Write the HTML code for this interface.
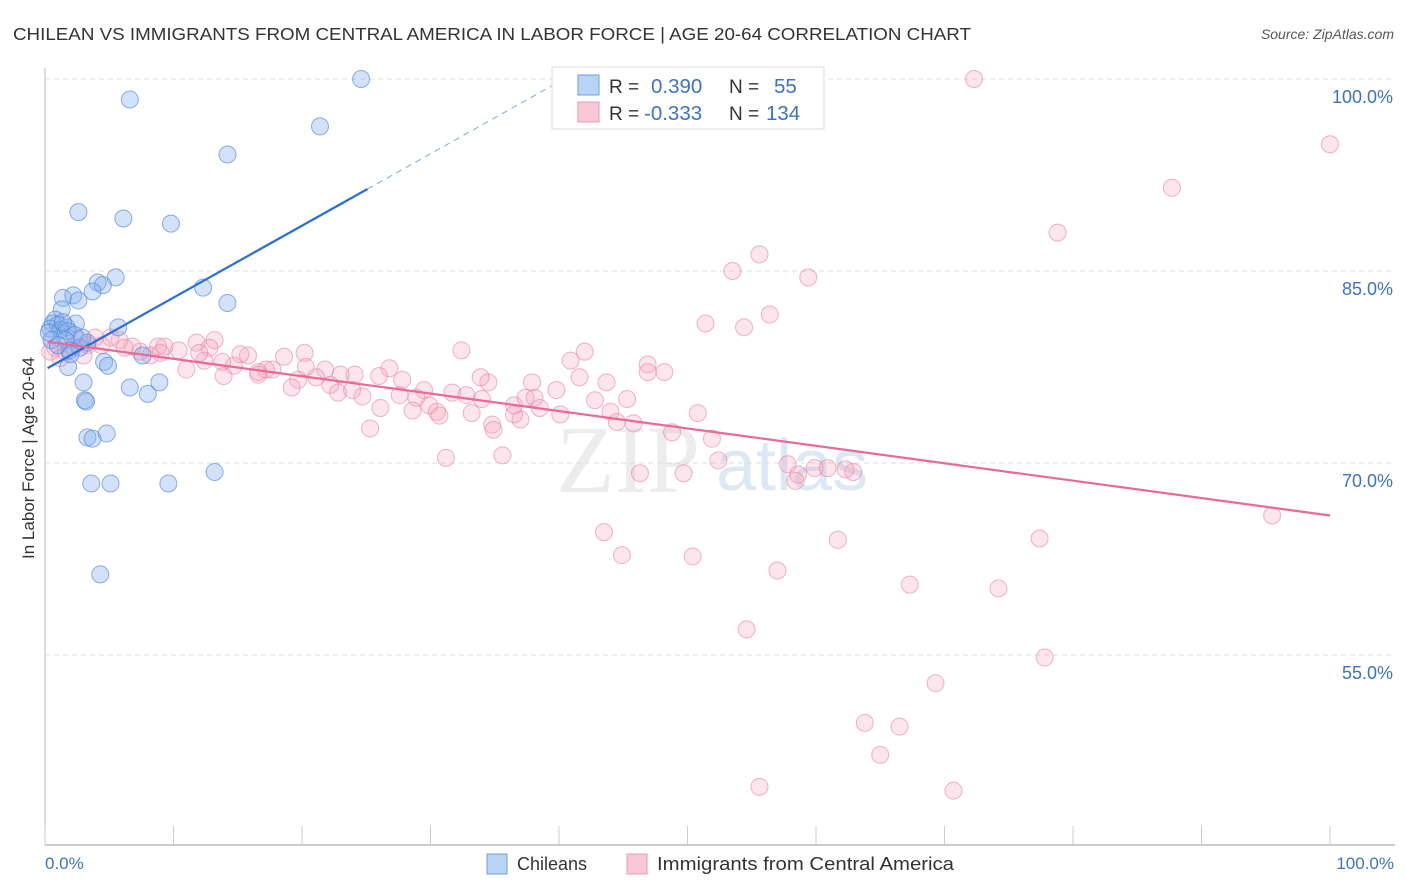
<!DOCTYPE html>
<html><head><meta charset="utf-8"><style>
body{margin:0;background:#fff;font-family:"Liberation Sans",sans-serif}
svg{display:block}
</style></head><body>
<svg id="chart" width="1406" height="892" viewBox="0 0 1406 892">
<text x="13" y="40" font-size="17.5" fill="#333" textLength="958" lengthAdjust="spacingAndGlyphs">CHILEAN VS IMMIGRANTS FROM CENTRAL AMERICA IN LABOR FORCE | AGE 20-64 CORRELATION CHART</text>
<text x="1394" y="39" font-size="14" fill="#555" font-style="italic" text-anchor="end">Source: ZipAtlas.com</text>
<text x="700" y="492" font-size="96" fill="#ececec" font-family="Liberation Serif,serif" text-anchor="end">ZIP</text>
<text x="716" y="490" font-size="72" fill="#dde8f5">atlas</text>
<g id="grid"></g>
<g id="axes"></g>
<g id="pink"></g>
<g id="blue"></g>
<g id="trends"></g>
<text x="34" y="458" font-size="17" fill="#333" text-anchor="middle" transform="rotate(-90 34 458)">In Labor Force | Age 20-64</text>
<text x="45" y="869" font-size="17" fill="#3b73c8">0.0%</text>
<text x="1394" y="869" font-size="17" fill="#3b73c8" text-anchor="end">100.0%</text>
<g>
<rect x="487" y="854" width="20" height="20" fill="#b9d3f5" stroke="#6e9ee0"/>
<text x="517" y="870" font-size="18" fill="#333">Chileans</text>
<rect x="627" y="854" width="20" height="20" fill="#f8c8d6" stroke="#ec9ab4"/>
<text x="657" y="870" font-size="18" fill="#333" textLength="297" lengthAdjust="spacingAndGlyphs">Immigrants from Central America</text>
</g>
<g>
<rect x="552" y="67" width="272" height="62" fill="#fff" stroke="#ddd"/>
<rect x="578" y="75" width="21" height="20" fill="#b9d3f5" stroke="#6e9ee0"/>
<rect x="578" y="102" width="21" height="20" fill="#f8c8d6" stroke="#ec9ab4"/>
<text x="609" y="93" font-size="19" fill="#333">R = </text><text x="651" y="93" font-size="20.5" fill="#3b73c8">0.390</text>
<text x="729" y="93" font-size="19" fill="#333">N = </text><text x="774" y="93" font-size="20.5" fill="#3b73c8">55</text>
<text x="609" y="120" font-size="19" fill="#333">R = </text><text x="644" y="120" font-size="20.5" fill="#3b73c8">-0.333</text>
<text x="729" y="120" font-size="19" fill="#333">N = </text><text x="766" y="120" font-size="20.5" fill="#3b73c8">134</text>
</g>
</svg>
<script>
const yTicks=[55,70,85,100];
const yTickLabels=["55.0%","70.0%","85.0%","100.0%"];
const xTicks=[0,10,20,30,40,50,60,70,80,90,100];
const blueX=[24.6,6.6,21.4,14.2,2.6,6.1,9.8,5.5,4.1,4.5,3.7,12.3,14.2,1.4,2.2,2.6,1.3,0.8,0.6,1.0,0.4,1.2,1.7,2.4,1.8,2.3,3.3,1.6,0.5,1.9,2.7,5.7,7.6,1.8,4.6,4.9,3.0,6.6,8.9,8.0,3.1,3.2,3.3,3.7,4.8,13.2,3.6,5.1,9.6,4.3,0.3,1.0,2.0,2.9,1.4];
const blueY=[100,98.4,96.3,94.1,89.6,89.1,88.7,84.5,84.1,83.9,83.4,83.7,82.5,82.9,83.1,82.7,82.0,81.2,80.9,80.8,80.5,80.4,80.6,80.9,80.3,80.0,79.4,79.6,79.6,78.8,79.0,80.6,78.4,77.5,77.9,77.6,76.3,75.9,76.3,75.4,74.9,74.8,72.0,71.9,72.3,69.3,68.4,68.4,68.4,61.3,80.2,79.2,78.5,79.8,81.0];
const pinkX=[72.3,100,87.7,78.8,55.6,53.5,59.4,56.4,51.4,54.4,95.5,77.4,43.5,44.9,50.4,61.7,57.0,67.3,74.2,54.6,77.8,69.3,63.8,66.5,65.0,55.6,70.7,52.4,49.7,46.3,58.6,57.8,59.9,60.9,62.9,62.3,58.4,50.8,48.8,51.9,45.8,42.0,40.9,41.6,43.7,45.3,46.9,48.2,46.9,42.8,39.8,37.9,38.1,38.5,37.0,36.5,37.4,34.8,35.6,34.9,33.2,34.5,33.9,32.4,31.7,31.2,30.7,29.9,29.5,28.9,28.6,27.8,26.8,26.1,25.3,24.7,24.1,23.0,22.8,22.2,21.8,21.1,20.2,19.7,19.2,18.6,17.7,17.2,16.6,15.8,15.2,14.7,13.9,13.8,13.2,12.8,12.4,11.8,11.0,10.4,9.3,8.8,8.2,7.4,6.8,5.8,5.1,4.4,3.9,3.3,2.7,2.2,1.6,0.8,0.4,16.6,20.3,23.9,27.6,30.5,32.8,36.5,40.1,44.0,47.5,48.6,9.0,3.0,6.2,12.0,26.0,34.0,1.2,44.5];
const pinkY=[100,94.9,91.5,88.0,86.3,85.0,84.5,81.6,80.9,80.6,65.9,64.1,64.6,62.8,62.7,64.0,61.6,60.5,60.2,57.0,54.8,52.8,49.7,49.4,47.2,44.7,44.4,70.2,69.2,69.2,69.1,69.9,69.6,69.6,69.3,69.5,68.6,73.9,72.4,71.9,73.1,78.7,78.0,76.7,76.3,75.0,77.7,77.1,77.1,74.9,75.7,76.3,75.1,74.3,73.4,73.8,75.1,73.0,70.6,72.6,73.9,76.3,76.7,78.8,75.5,70.4,73.7,74.5,75.7,75.1,74.1,76.5,77.4,74.3,72.7,75.2,76.9,76.9,75.5,76.1,77.3,76.7,78.6,76.5,75.9,78.3,77.3,77.3,77.1,78.4,78.5,77.6,76.8,77.9,79.6,79.0,78.0,79.4,77.3,78.8,79.1,79.1,78.4,78.7,79.1,79.6,79.8,79.2,79.8,79.2,79.6,79.1,78.7,79.0,78.7,76.9,77.5,75.7,75.3,74.0,75.3,74.5,73.8,74.0,100,100,78.6,78.4,79.0,78.6,76.8,75.0,78.2,73.2];
const blueTrend={a:77.3,b:0.562,solidTo:25.1,dashTo:40};
const pinkTrend={a:79.5,b:-0.136,to:100};

const NS="http://www.w3.org/2000/svg";
const X=v=>45+v*12.85;
const Y=v=>79+(100-v)*12.8;
function mk(tag,attrs,parent){const e=document.createElementNS(NS,tag);for(const k in attrs)e.setAttribute(k,attrs[k]);parent.appendChild(e);return e;}
const grid=document.getElementById('grid'),axes=document.getElementById('axes');
yTicks.forEach((t,i)=>{
  const l=mk('line',{x1:45,x2:1395,y1:Y(t),y2:Y(t),stroke:'#ddd','stroke-dasharray':'5,4'},grid);
  
  
  const tx=mk('text',{x:1393,y:Y(t)+24,'font-size':18,fill:'#3b73c8','text-anchor':'end'},grid);
  tx.textContent=yTickLabels[i];
  
  
});
const ya=mk('line',{x1:45,x2:45,y1:68,y2:845,stroke:'#bbb'},axes);


const xa=mk('line',{x1:45,x2:1395,y1:845,y2:845,stroke:'#bbb','stroke-width':1.5},axes);


xTicks.forEach(t=>{
  const l=mk('line',{x1:X(t),x2:X(t),y1:826,y2:845,stroke:'#ccc'},axes);
  
  
});
const pg=document.getElementById('pink');
pinkX.forEach((v,i)=>{
  const c=mk('circle',{cx:X(v),cy:Y(pinkY[i]),r:8.5,fill:'rgba(244,160,186,0.28)',stroke:'rgba(232,130,162,0.6)','stroke-width':1},pg);
  
  
});
const bg=document.getElementById('blue');
blueX.forEach((v,i)=>{
  const c=mk('circle',{cx:X(v),cy:Y(blueY[i]),r:8.5,fill:'rgba(130,172,236,0.35)',stroke:'rgba(80,135,220,0.65)','stroke-width':1},bg);
  
  
});
const tg=document.getElementById('trends');
const bt=blueTrend,pt=pinkTrend;
const b1=mk('line',{x1:X(0.2),y1:Y(bt.a+bt.b*0.2),x2:X(bt.solidTo),y2:Y(bt.a+bt.b*bt.solidTo),stroke:'#2a6fd6','stroke-width':2.2},tg);


const b2=mk('line',{x1:X(bt.solidTo),y1:Y(bt.a+bt.b*bt.solidTo),x2:X(bt.dashTo),y2:Y(bt.a+bt.b*bt.dashTo),stroke:'#7fa6e0','stroke-width':1,'stroke-dasharray':'6,5'},tg);


const p1=mk('line',{x1:X(0.2),y1:Y(pt.a+pt.b*0.2),x2:X(pt.to),y2:Y(pt.a+pt.b*pt.to),stroke:'#e8699a','stroke-width':2.2},tg);


</script>
</body></html>
